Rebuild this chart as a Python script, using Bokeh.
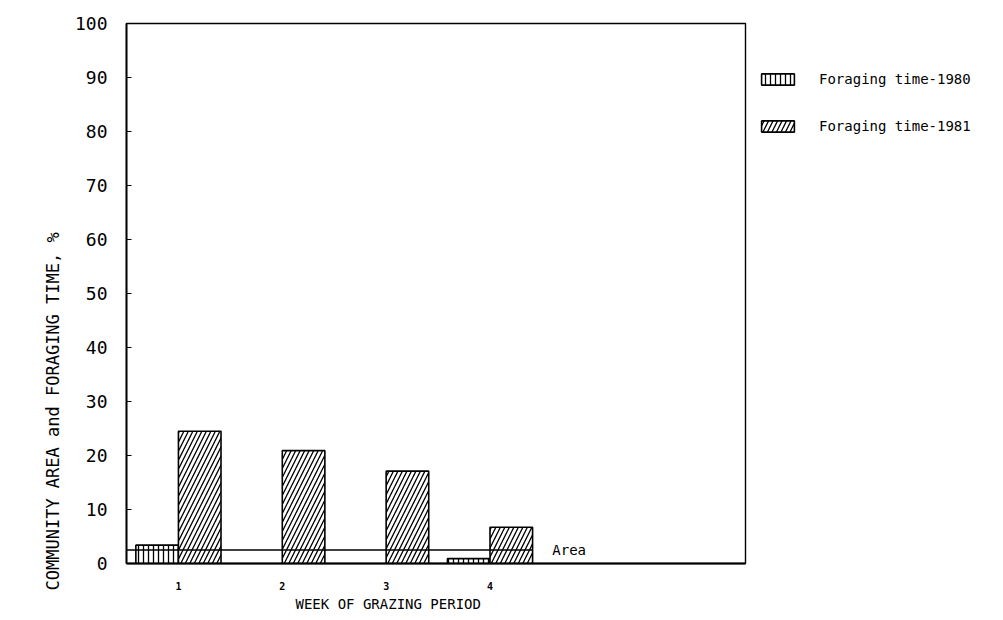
from bokeh.plotting import figure
from bokeh.models import ColumnDataSource, Legend, LegendItem, Label, FixedTicker, Title
from bokeh.embed import file_html
from bokeh.resources import INLINE

# Share of community area and foraging time (%) per week of the grazing period
weeks = [1, 2, 3, 4]
week_labels = ["1", "2", "3", "4"]
forage_1980 = [3.4, None, None, 0.9]
forage_1981 = [24.5, 20.9, 17.1, 6.7]
area_pct = 2.5
y_ticks = [0, 10, 20, 30, 40, 50, 60, 70, 80, 90, 100]

BAR_W = 0.41
MONO = "DejaVu Sans Mono"

w80 = [w for w, v in zip(weeks, forage_1980) if v is not None]
v80 = [v for v in forage_1980 if v is not None]
src80 = ColumnDataSource(dict(left=[w - BAR_W for w in w80], right=w80,
                              top=v80, bottom=[0] * len(v80)))
src81 = ColumnDataSource(dict(left=weeks, right=[w + BAR_W for w in weeks],
                              top=forage_1981, bottom=[0] * len(weeks)))

p = figure(frame_width=619, frame_height=540, output_backend="svg", toolbar_location=None,
           x_range=(0.5, 6.46), y_range=(0, 100),
           min_border_left=126, min_border_right=258,
           min_border_top=23, min_border_bottom=57)
p.background_fill_color = "white"
p.border_fill_color = "white"
p.outline_line_color = "black"
p.outline_line_width = 1.4
p.xgrid.visible = False
p.ygrid.visible = False

r80 = p.quad(left="left", right="right", top="top", bottom="bottom", source=src80,
             fill_color="white", line_color="black", line_width=1.6,
             hatch_pattern="|", hatch_scale=5, hatch_color="black", hatch_weight=1.3)
r81 = p.quad(left="left", right="right", top="top", bottom="bottom", source=src81,
             fill_color="white", line_color="black", line_width=1.6,
             hatch_pattern="/", hatch_scale=9, hatch_color="black", hatch_weight=1.3)

# community area share, drawn across the four weeks
p.segment(x0=[0.5], x1=[weeks[-1] + BAR_W], y0=[area_pct], y1=[area_pct],
          line_color="black", line_width=1.5)
p.add_layout(Label(x=4.6, y=area_pct, text="Area", text_align="left",
                   text_baseline="middle", text_font=MONO, text_font_size="14px",
                   text_color="black"))

# axes
p.yaxis.ticker = FixedTicker(ticks=y_ticks)
p.yaxis.major_tick_in = 5
p.yaxis.major_tick_out = 0
p.yaxis.minor_tick_line_color = None
p.yaxis.major_label_standoff = 19
p.yaxis.major_label_text_font = MONO
p.yaxis.major_label_text_font_size = "18px"
p.yaxis.major_label_text_color = "black"
p.yaxis.axis_line_width = 1.8

p.xaxis.ticker = FixedTicker(ticks=weeks)
p.xaxis.major_label_overrides = {w: t for w, t in zip(weeks, week_labels)}
p.xaxis.major_tick_in = 0
p.xaxis.major_tick_out = 0
p.xaxis.minor_tick_line_color = None
p.xaxis.major_label_standoff = 18
p.xaxis.major_label_text_font = MONO
p.xaxis.major_label_text_font_size = "10px"
p.xaxis.major_label_text_font_style = "bold"
p.xaxis.major_label_text_color = "black"
p.xaxis.axis_line_width = 1.8

# axis titles, placed as side-panel titles so they can sit off-centre
p.add_layout(Title(text="WEEK OF GRAZING PERIOD", align="left", offset=169,
                   text_font=MONO, text_font_size="14px", text_font_style="normal",
                   text_color="black", standoff=2), "below")
p.add_layout(Title(text="COMMUNITY AREA and FORAGING TIME, %", align="left", offset=-27,
                   text_font=MONO, text_font_size="17px", text_font_style="normal",
                   text_color="black", standoff=17), "left")

legend = Legend(items=[LegendItem(label="Foraging time-1980", renderers=[r80]),
                       LegendItem(label="Foraging time-1981", renderers=[r81])],
                location="top_left", orientation="vertical",
                title=" ", title_text_font_size="14px", title_standoff=20,
                glyph_width=41, glyph_height=14, label_height=14, spacing=31,
                label_standoff=21, padding=28, margin=12,
                border_line_color=None, background_fill_alpha=0,
                label_text_font=MONO, label_text_font_size="14px",
                label_text_color="black")
p.add_layout(legend, "right")

open("out.html", "w").write(file_html(p, INLINE))
